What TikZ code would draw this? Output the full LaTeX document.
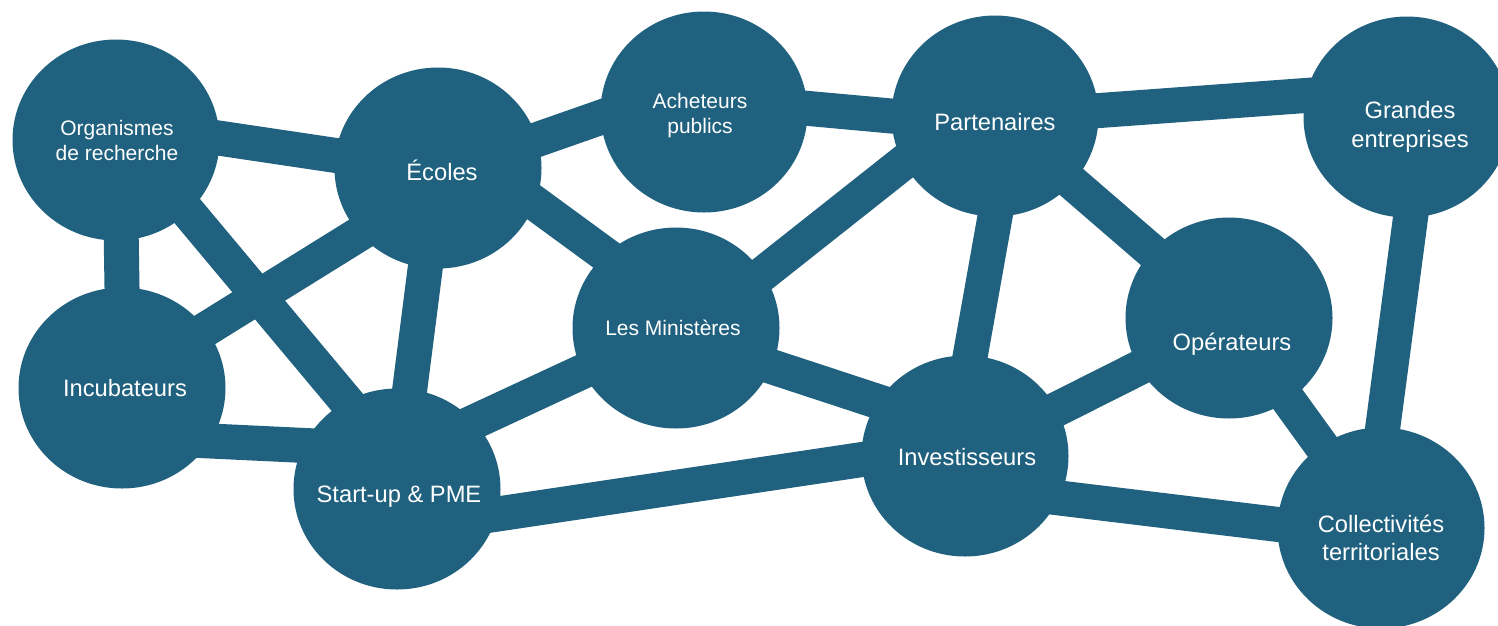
\documentclass[tikz,border=0pt]{standalone}
\usepackage{fontspec}
\setmainfont{Liberation Sans}
\usetikzlibrary{shapes.geometric, backgrounds}
\definecolor{hubblue}{HTML}{1F617E}
\tikzstyle{hub} = [ellipse, fill=hubblue, minimum width=207pt, minimum height=201pt, inner sep=0pt]
\tikzstyle{link} = [draw=hubblue, line width=35pt, shorten <=-14pt, shorten >=-14pt]
\tikzstyle{bigtext} = [text=white, align=center, font=\fontsize{23.7}{28.5}\selectfont]
\tikzstyle{smalltext} = [text=white, align=center, font=\fontsize{21}{25}\selectfont]

\begin{document}
\begin{tikzpicture}[x=1pt, y=-1pt]
    \useasboundingbox (0,0) rectangle (1498,625);
    \node (orgs) [hub, label={[smalltext, xshift=1pt]center:Organismes\\de recherche}] at (116,140) {};
    \node (ecoles) [hub, label={[bigtext, xshift=4pt, yshift=-2pt]center:Écoles}] at (438,168) {};
    \node (buyers) [hub, label={[smalltext, xshift=-4pt, yshift=-4pt]center:Acheteurs\\publics}] at (704,112) {};
    \node (partners) [hub, label={[bigtext, yshift=-6pt]center:Partenaires}] at (995,116) {};
    \node (grandes) [hub, label={[bigtext, xshift=3pt, yshift=-10pt]center:Grandes\\entreprises}] at (1407,117) {};
    \node (incub) [hub, label={[bigtext, xshift=3pt]center:Incubateurs}] at (122,388) {};
    \node (minist) [hub, label={[smalltext, xshift=-3pt]center:Les Ministères}] at (676,328) {};
    \node (operat) [hub, label={[bigtext, xshift=3pt, yshift=-26pt]center:Opérateurs}] at (1229,318) {};
    \node (startup) [hub, label={[bigtext, xshift=2pt, yshift=-8pt]center:Start-up \& PME}] at (397,489) {};
    \node (invest) [hub, label={[bigtext, xshift=2pt, yshift=-1pt]center:Investisseurs}] at (965,456) {};
    \node (collect) [hub, label={[bigtext, yshift=-10pt]center:Collectivités\\territoriales}] at (1381,528) {};
    \begin{pgfonlayer}{background}
        \draw [link] (orgs.1) -- (ecoles.173);
        \draw [link] (orgs.273) -- (incub.90);
        \draw [link] (orgs.-45) -- (startup.120);
        \draw [link] (ecoles.16) -- (buyers.183);
        \draw [link] (ecoles.220) -- (incub.35);
        \draw [link] (ecoles) -- (startup);
        \draw [link] (ecoles.-20) -- (minist.134);
        \draw [link] (buyers.2) -- (partners.180);
        \draw [link] (partners.3) -- (grandes.168);
        \draw [link] (partners.207) -- (minist.32);
        \draw [link] (partners.-90) -- (invest.87);
        \draw [link] (partners) -- (operat);
        \draw [link] (incub.-31) -- (startup.155);
        \draw [link] (minist.205) -- (startup.41);
        \draw [link] (minist.-22) -- (invest.148);
        \draw [link] (startup.-14) -- (invest.182);
        \draw [link] (invest.27) -- (operat.209);
        \draw [link] (invest.-24) -- (collect.178);
        \draw [link] (operat) -- (collect);
        \draw [link] (grandes.-88) -- (collect.89);
    \end{pgfonlayer}
\end{tikzpicture}
\end{document}
